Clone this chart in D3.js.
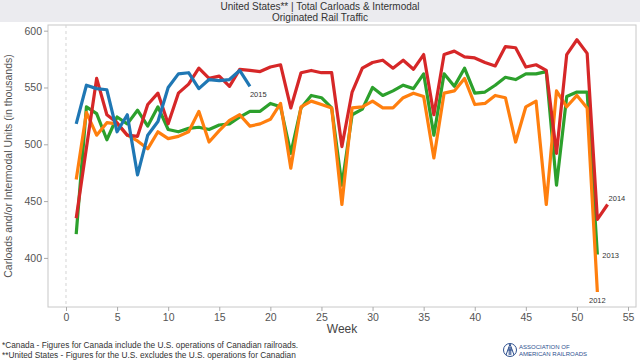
<!DOCTYPE html>
<html>
<head>
<meta charset="utf-8">
<script src="https://cdn.jsdelivr.net/npm/d3@7"></script>
<style>
body { margin: 0; background: #fff; }
svg { display: block; font-family: "Liberation Sans", Arial, sans-serif; }
.tick text { fill: #555; font-size: 10.5px; }
.tick line { stroke: #aaa; }
.domain { display: none; }
</style>
</head>
<body>
<script>
// weekly carloads + intermodal units, thousands
var weeks = d3.range(1, 54);
var s2015 = [518, 552, 549, 548, 511, 526, 473, 508, 520, 550, 562, 563, 549, 557, 556, 557, 565, 551];
var s2014 = [435, 497, 558, 526, 519, 508, 507, 535, 545, 518, 545, 553, 567, 558, 560, 551, 566, 565, 564, 568,
             570, 532, 563, 565, 563, 563, 498, 546, 567, 572, 574, 567, 574, 566, 579, 526, 579, 582, 577, 576,
             572, 569, 586, 585, 568, 570, 565, 492, 579, 592, 580, 434, 447];
var s2013 = [421, 533, 527, 504, 524, 518, 530, 516, 533, 513, 511, 514, 515, 513, 517, 518, 524, 529, 529, 536,
             533, 492, 532, 543, 541, 532, 464, 526, 531, 550, 543, 547, 552, 549, 562, 508, 562, 551, 567, 545,
             546, 552, 559, 557, 562, 562, 564, 464, 542, 546, 546, 403];
var s2012 = [469, 528, 508, 519, 518, 508, 503, 496, 511, 505, 507, 511, 529, 502, 512, 521, 526, 516, 518, 522,
             536, 479, 533, 538, 535, 532, 447, 532, 533, 538, 532, 532, 541, 545, 542, 488, 545, 547, 558, 535,
             536, 543, 541, 502, 533, 538, 447, 547, 533, 543, 532, 370];
var years = ["2013", "2012", "2014", "2015"];
var colors = { "2015": "#1f77b4", "2014": "#d62728", "2013": "#2ca02c", "2012": "#ff7f0e" };
var yTicks = [400, 450, 500, 550, 600];
var xTicks = [0, 5, 10, 15, 20, 25, 30, 35, 40, 45, 50, 55];

var seriesData = { "2015": s2015, "2014": s2014, "2013": s2013, "2012": s2012 };

var W = 640, H = 364;
var pLeft = 48, pRight = 636, pTop = 25, pBottom = 307;

var svg = d3.select("body").append("svg")
    .attr("width", W)
    .attr("height", H);

// title band
svg.append("rect").attr("x", 0).attr("y", 0).attr("width", W).attr("height", 22).attr("fill", "#ebebef");
svg.append("text").attr("x", 320).attr("y", 10).attr("text-anchor", "middle")
    .attr("font-size", "10px").attr("fill", "#333")
    .text("United States** | Total Carloads & Intermodal");
svg.append("text").attr("x", 320).attr("y", 20.5).attr("text-anchor", "middle")
    .attr("font-size", "10px").attr("fill", "#333")
    .text("Originated Rail Traffic");

var x = d3.scaleLinear().domain([-1.76, 55.78]).range([pLeft, pRight]);
var y = d3.scaleLinear().domain([356.8, 605]).range([pBottom, pTop]);

svg.append("rect")
    .attr("x", pLeft).attr("y", pTop)
    .attr("width", pRight - pLeft).attr("height", pBottom - pTop)
    .attr("fill", "#fff").attr("stroke", "#c8c8c8");

// zero line
svg.append("line")
    .attr("x1", x(0)).attr("x2", x(0))
    .attr("y1", pTop).attr("y2", pBottom)
    .attr("stroke", "#d4d4d4").attr("stroke-dasharray", "3,3");

svg.append("g")
    .attr("transform", "translate(" + pLeft + ",0)")
    .call(d3.axisLeft(y).tickValues(yTicks).tickSize(4).tickPadding(2));

svg.append("g")
    .attr("transform", "translate(0," + pBottom + ")")
    .call(d3.axisBottom(x).tickValues(xTicks).tickSize(4).tickPadding(3));

svg.append("text").attr("x", 342).attr("y", 333).attr("text-anchor", "middle")
    .attr("font-size", "12px").attr("fill", "#444").text("Week");

svg.append("text")
    .attr("transform", "translate(12," + (pTop + pBottom) / 2 + ") rotate(-90)")
    .attr("text-anchor", "middle")
    .attr("font-size", "10.5px").attr("fill", "#555")
    .text("Carloads and/or Intermodal Units (in thousands)");

var line = d3.line()
    .x(function (d, i) { return x(weeks[i]); })
    .y(function (d) { return y(d); });

years.forEach(function (yr) {
    svg.append("path")
        .datum(seriesData[yr])
        .attr("fill", "none")
        .attr("stroke", colors[yr])
        .attr("stroke-width", 3.2)
        .attr("stroke-linejoin", "round")
        .attr("d", line);
});

// end labels
function endLabel(yr, dx, dy, anchor) {
    var arr = seriesData[yr];
    var n = arr.length - 1;
    svg.append("text")
        .attr("x", x(weeks[n]) + dx)
        .attr("y", y(arr[n]) + dy)
        .attr("text-anchor", anchor)
        .attr("font-size", "7.5px").attr("fill", "#333")
        .text(yr);
}
endLabel("2015", 0, 11, "start");
endLabel("2014", 1, -4, "start");
endLabel("2013", 5, 3, "start");
endLabel("2012", 0, 11, "middle");

// footnotes
svg.append("text").attr("x", 2).attr("y", 348).attr("font-size", "8.3px").attr("fill", "#333")
    .text("*Canada - Figures for Canada include the U.S. operations of Canadian railroads.");
svg.append("text").attr("x", 2).attr("y", 358).attr("font-size", "8.3px").attr("fill", "#333")
    .text("**United States - Figures for the U.S. excludes the U.S. operations for Canadian");

// logo
var logo = svg.append("g").attr("transform", "translate(510,350)");
logo.append("circle").attr("r", 6.5).attr("fill", "none").attr("stroke", "#2d4f8e").attr("stroke-width", 1);
logo.append("path").attr("d", "M-4,5 L0,-6 L4,5 M-2.2,0 L2.2,0 M-0.8,-3 L-0.8,5 M0.8,-3 L0.8,5")
    .attr("fill", "none").attr("stroke", "#2d4f8e").attr("stroke-width", 1);
logo.append("text").attr("x", 9).attr("y", -1).attr("font-size", "6px").attr("fill", "#2d4f8e")
    .text("ASSOCIATION OF");
logo.append("text").attr("x", 9).attr("y", 5.5).attr("font-size", "6px").attr("fill", "#2d4f8e")
    .text("AMERICAN RAILROADS");
</script>
</body>
</html>
